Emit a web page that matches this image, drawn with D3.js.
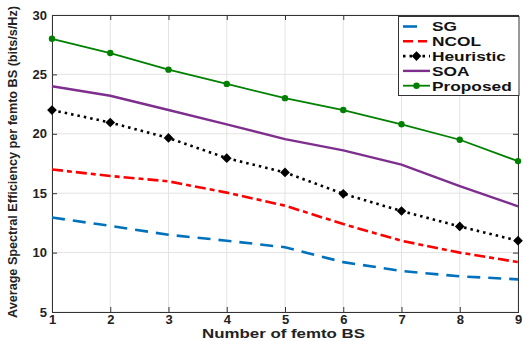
<!DOCTYPE html>
<html>
<head>
<meta charset="utf-8">
<script src="https://d3js.org/d3.v7.min.js"></script>
<style>
  body { margin: 0; background: #fff; }
  text { font-family: "Liberation Sans", Arial, sans-serif; font-weight: bold; }
  .grid line { stroke: #e3e3e3; stroke-width: 1; }
  .axis path, .axis line { stroke: #333; }
  .axis text { font-size: 13px; fill: #222; }
</style>
</head>
<body>
<div id="chart"></div>
<script>
// femto BS counts
var femtoBS = [1, 2, 3, 4, 5, 6, 7, 8, 9];

// spectral efficiency
var sgVals        = [12.95, 12.25, 11.5, 11.0, 10.45, 9.2, 8.45, 8.0, 7.75];
var ncolVals      = [17.0, 16.45, 16.0, 15.05, 13.95, 12.4, 11.0, 10.0, 9.2];
var heuristicVals = [22.0, 20.95, 19.65, 17.95, 16.75, 14.95, 13.5, 12.2, 11.0];
var soaVals       = [24.0, 23.2, 22.0, 20.8, 19.55, 18.6, 17.4, 15.6, 13.9];
var proposedVals  = [28.0, 26.8, 25.4, 24.2, 23.0, 22.0, 20.8, 19.5, 17.7];

var yTicks = [5, 10, 15, 20, 25, 30];

var series = [
  { name: "SG",        values: sgVals,        color: "#0072BD", dash: "13,8",     width: 2.6, marker: null },
  { name: "NCOL",      values: ncolVals,      color: "#FF0000", dash: "11,4,5,4", width: 2.6, marker: null },
  { name: "Heuristic", values: heuristicVals, color: "#000000", dash: "2.5,4",    width: 2.6, marker: "diamond" },
  { name: "SOA",       values: soaVals,       color: "#7E2F8E", dash: null,       width: 2.4, marker: null },
  { name: "Proposed",  values: proposedVals,  color: "#008000", dash: null,       width: 1.8, marker: "circle" }
];

var width = 523, height = 341;
var margin = { top: 15, right: 5, bottom: 29, left: 52 };
var stretch = 1.28; // the original's lettering is drawn wide

var svg = d3.select("#chart").append("svg")
  .attr("width", width)
  .attr("height", height);

var x = d3.scaleLinear().domain([1, 9]).range([margin.left, width - margin.right]);
var y = d3.scaleLinear().domain([5, 30]).range([height - margin.bottom, margin.top]);

function widen(sel) {
  sel.each(function() {
    var w = this.getComputedTextLength();
    d3.select(this).attr("textLength", w * stretch).attr("lengthAdjust", "spacingAndGlyphs");
  });
}

// grid
svg.append("g").attr("class", "grid")
  .selectAll("line").data(femtoBS).enter().append("line")
  .attr("x1", d => x(d)).attr("x2", d => x(d))
  .attr("y1", y(5)).attr("y2", y(30));
svg.append("g").attr("class", "grid")
  .selectAll("line").data(yTicks).enter().append("line")
  .attr("x1", x(1)).attr("x2", x(9))
  .attr("y1", d => y(d)).attr("y2", d => y(d));

// axes
var xAxis = svg.append("g").attr("class", "axis")
  .attr("transform", "translate(0," + y(5) + ")")
  .call(d3.axisBottom(x).tickValues(femtoBS).tickSize(-5).tickPadding(5).tickFormat(d3.format("d")));
svg.append("g").attr("class", "axis")
  .attr("transform", "translate(" + x(1) + ",0)")
  .call(d3.axisLeft(y).tickValues(yTicks).tickSize(-5).tickPadding(5));
svg.append("g").attr("class", "axis")
  .attr("transform", "translate(0," + y(30) + ")")
  .call(d3.axisTop(x).tickValues(femtoBS).tickSize(-5).tickFormat(""));
svg.append("g").attr("class", "axis")
  .attr("transform", "translate(" + x(9) + ",0)")
  .call(d3.axisRight(y).tickValues(yTicks).tickSize(-5).tickFormat(""));

xAxis.selectAll("text").attr("dy", "0.55em");

// lines
var line = d3.line().x((d, i) => x(femtoBS[i])).y(d => y(d));

series.forEach(function(s) {
  svg.append("path")
    .datum(s.values)
    .attr("d", line)
    .attr("fill", "none")
    .attr("stroke", s.color)
    .attr("stroke-width", s.width)
    .attr("stroke-dasharray", s.dash);

  if (s.marker === "circle") {
    svg.selectAll(null).data(s.values).enter().append("circle")
      .attr("cx", (d, i) => x(femtoBS[i])).attr("cy", d => y(d))
      .attr("r", 3.2).attr("fill", s.color);
  } else if (s.marker === "diamond") {
    svg.selectAll(null).data(s.values).enter().append("path")
      .attr("d", d3.symbol().type(d3.symbolDiamond2).size(60))
      .attr("transform", (d, i) => "translate(" + x(femtoBS[i]) + "," + y(d) + ")")
      .attr("fill", s.color);
  }
});

// axis labels (left-anchored, stretched to the original's width)
svg.append("text")
  .attr("x", 202).attr("y", height - 3)
  .attr("font-size", 13).attr("fill", "#222")
  .attr("textLength", 163).attr("lengthAdjust", "spacingAndGlyphs")
  .text("Number of femto BS");

svg.append("text")
  .attr("transform", "translate(17,318) rotate(-90)")
  .attr("font-size", 12).attr("fill", "#222")
  .attr("textLength", 312).attr("lengthAdjust", "spacingAndGlyphs")
  .text("Average Spectral Efficiency per femto BS (bits/s/Hz)");

// legend
var lg = svg.append("g").attr("transform", "translate(398.5,16.5)");
lg.append("rect")
  .attr("width", 120.5).attr("height", 79)
  .attr("fill", "#fff").attr("stroke", "#333").attr("stroke-width", 1);

var legendDash = { SG: "14,40", NCOL: "10,5,9,30" };

series.forEach(function(s, i) {
  var ly = 10 + i * 14.8;
  lg.append("line")
    .attr("x1", 4.5).attr("x2", 31.5).attr("y1", ly).attr("y2", ly)
    .attr("stroke", s.color).attr("stroke-width", s.width)
    .attr("stroke-dasharray", legendDash[s.name] || s.dash);
  if (s.marker === "circle") {
    lg.append("circle").attr("cx", 18).attr("cy", ly).attr("r", 3.2).attr("fill", s.color);
  } else if (s.marker === "diamond") {
    lg.append("path")
      .attr("d", d3.symbol().type(d3.symbolDiamond2).size(60))
      .attr("transform", "translate(18," + ly + ")")
      .attr("fill", s.color);
  }
  lg.append("text")
    .attr("x", 33.5).attr("y", ly).attr("dy", "0.36em")
    .attr("font-size", 13.5).attr("fill", "#111")
    .text(s.name)
    .call(widen);
});
</script>
</body>
</html>
